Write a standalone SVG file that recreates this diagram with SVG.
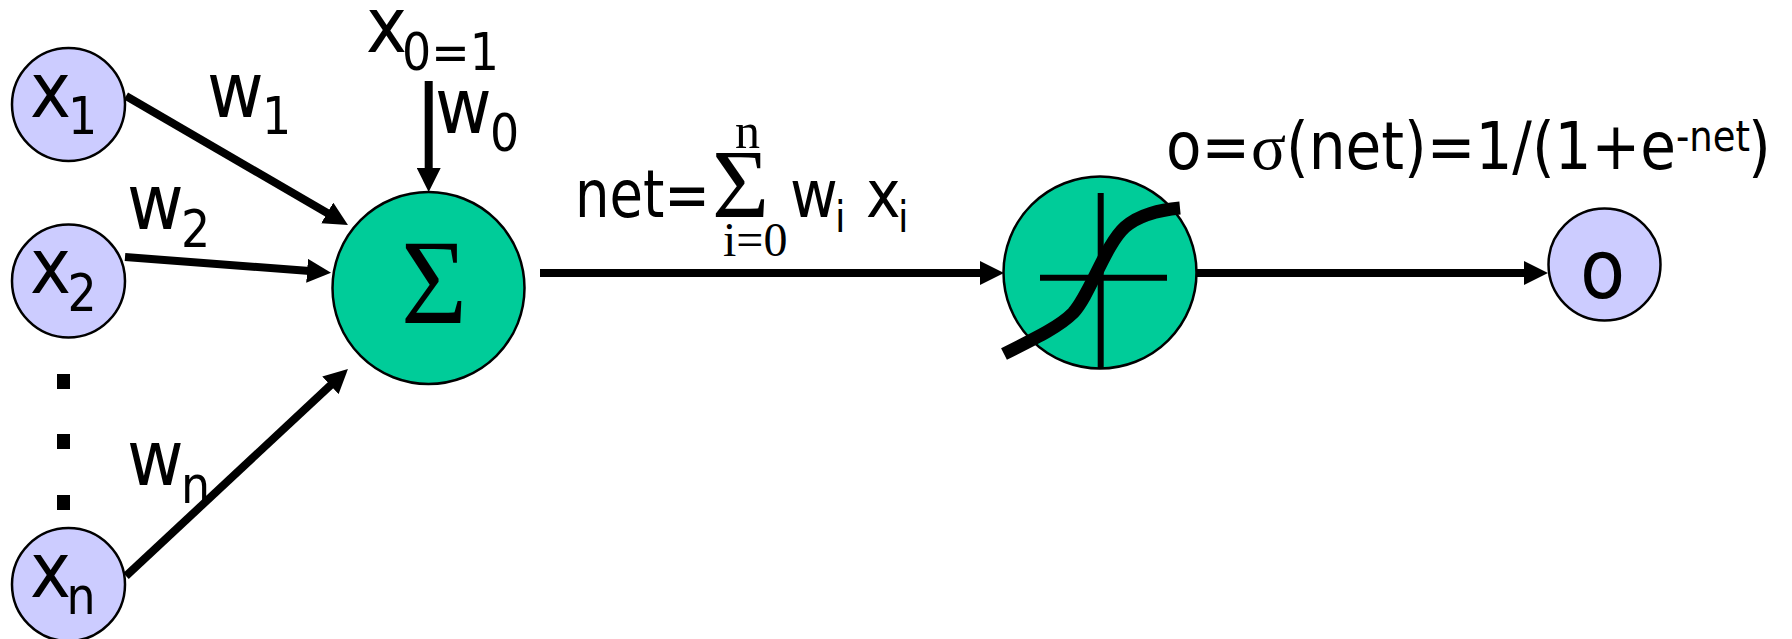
<svg xmlns="http://www.w3.org/2000/svg" width="1792" height="639" viewBox="0 0 1792 639">
<style>
.t{font-family:"DejaVu Sans Condensed","DejaVu Sans",sans-serif;fill:#000}
.s{font-family:"Liberation Serif",serif;fill:#000}
.l{font-size:77px}.m{font-size:65px}
.b{font-size:51px}.c{font-size:42px}
.in{fill:#CCCCFF;stroke:#000;stroke-width:2.5}
.op{fill:#00CC99;stroke:#000;stroke-width:2.5}
.a{stroke:#000;fill:none;stroke-width:8;marker-end:url(#h)}
</style>
<defs><marker id="h" markerUnits="userSpaceOnUse" markerWidth="24" markerHeight="24" refX="6" refY="12" orient="auto"><path d="M0,0L24,12L0,24z" fill="#000"/></marker></defs>
<rect width="1792" height="639" fill="#fff"/>
<g id="connectors">
<line class="a" x1="126" y1="96" x2="332.4" y2="216"/>
<line class="a" x1="125" y1="257" x2="313.1" y2="271.3"/>
<line class="a" x1="428.7" y1="81" x2="428.7" y2="174"/>
<line class="a" x1="126" y1="576" x2="334.8" y2="381.3"/>
<line class="a" x1="540" y1="273" x2="986" y2="273"/>
<line class="a" x1="1196" y1="273" x2="1530" y2="273"/>
</g>
<g id="node-x1"><ellipse class="in" cx="68.5" cy="104.5" rx="56.5" ry="56.5"/><text class="t l" x="30" y="116.7">x<tspan class="b" x="68" y="134">1</tspan></text></g>
<g id="node-x2"><ellipse class="in" cx="68.5" cy="281" rx="56.5" ry="56.5"/><text class="t l" x="30" y="293">x<tspan class="b" x="67.5" y="310.7">2</tspan></text></g>
<g id="node-xn"><ellipse class="in" cx="68.5" cy="584.5" rx="56.5" ry="56.5"/><text class="t l" x="30" y="596.7">x<tspan class="b" x="66.5" y="614">n</tspan></text></g>
<g id="dots"><rect x="57" y="374" width="13" height="15"/><rect x="57" y="434" width="13" height="15"/><rect x="57" y="495" width="13" height="15"/></g>
<g id="node-sum"><ellipse class="op" cx="428.5" cy="288" rx="96" ry="96"/><text class="s" x="434" y="322.7" text-anchor="middle" font-size="120" textLength="66" lengthAdjust="spacingAndGlyphs">Σ</text></g>
<g id="node-sigmoid"><ellipse class="op" cx="1100" cy="272.5" rx="96.5" ry="96"/>
<path d="M1100.7 193V369M1040 277.7H1167" stroke="#000" stroke-width="6" fill="none"/>
<path d="M1004 354C1040 336 1060 326 1073 313C1090 295 1105 245 1125 227C1140 214 1160 210 1180 208" stroke="#000" stroke-width="13" fill="none"/></g>
<g id="node-o"><ellipse class="in" cx="1604.5" cy="264.5" rx="56" ry="56"/><text class="t" x="1580" y="298" font-size="82">o</text></g>
<g id="labels">
<text class="t l" x="366" y="52">x<tspan class="b" x="402" y="70">0=1</tspan></text>
<text class="t l" x="207" y="116.7">w<tspan class="b" x="262" y="134">1</tspan></text>
<text class="t l" x="127" y="229">w<tspan class="b" x="181" y="246.7">2</tspan></text>
<text class="t l" x="435" y="132.7">w<tspan class="b" x="490" y="150.7">0</tspan></text>
<text class="t l" x="127" y="485">w<tspan class="b" x="181" y="502.7">n</tspan></text>
<text class="t m" x="575" y="216.7" textLength="135" lengthAdjust="spacingAndGlyphs">net=</text>
<text class="s" x="740.5" y="216.7" text-anchor="middle" font-size="98">Σ</text>
<text class="s" x="735" y="147.7" font-size="50">n</text>
<text class="s" x="723" y="255.7" font-size="48">i=0</text>
<text class="t m" x="790" y="216.7">w<tspan class="c" x="835" y="232">i</tspan></text>
<text class="t m" x="866" y="216.7">x<tspan class="c" x="898" y="232">i</tspan></text>
<text class="t m" x="1166" y="169" textLength="84" lengthAdjust="spacingAndGlyphs">o=</text>
<text class="s m" x="1251" y="169">σ</text>
<text class="t m" x="1286" y="169" textLength="390" lengthAdjust="spacingAndGlyphs">(net)=1/(1+e</text>
<text class="t c" x="1676" y="150.7" textLength="74" lengthAdjust="spacingAndGlyphs">-net</text>
<text class="t m" x="1748" y="169">)</text>
</g>
</svg>
